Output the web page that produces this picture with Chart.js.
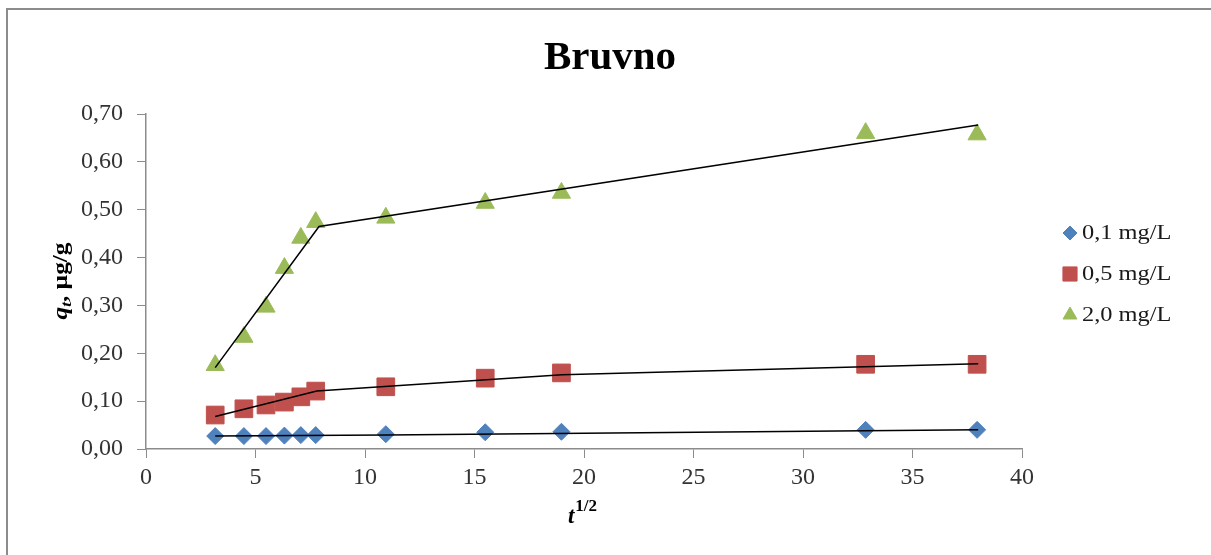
<!DOCTYPE html>
<html>
<head>
<meta charset="utf-8">
<script src="https://cdn.jsdelivr.net/npm/chart.js@4.4.1/dist/chart.umd.min.js"></script>
<style>
html,body{margin:0;padding:0;background:#fff;}
canvas{display:block;}
</style>
</head>
<body>
<canvas id="c" width="1211" height="555"></canvas>
<script>
// ---- data ----
const sqrtTime = [3.16, 4.47, 5.48, 6.32, 7.07, 7.75, 10.95, 15.49, 18.97, 32.86, 37.95];
const series01 = [0.027, 0.027, 0.027, 0.028, 0.029, 0.029, 0.031, 0.035, 0.036, 0.040, 0.040];
const series05 = [0.071, 0.084, 0.092, 0.098, 0.109, 0.121, 0.130, 0.148, 0.159, 0.177, 0.177];
const series20 = [0.175, 0.234, 0.297, 0.378, 0.441, 0.474, 0.483, 0.514, 0.535, 0.660, 0.657];

const fit01X = [3.16, 11.0, 38.0];
const fit01Y = [0.027, 0.029, 0.040];
const fit05X = [3.16, 7.8, 19.0, 38.0];
const fit05Y = [0.068, 0.121, 0.155, 0.178];
const fit20X = [3.16, 7.9, 38.0];
const fit20Y = [0.170, 0.465, 0.677];

const seriesLabels = ['0,1 mg/L', '0,5 mg/L', '2,0 mg/L'];
const seriesColors = ['#4F81BD', '#C0504D', '#9BBB59'];
const xTicks = [0, 5, 10, 15, 20, 25, 30, 35, 40];
const chartTitle = 'Bruvno';

const pts = (xs, ys) => xs.map((x, i) => ({x: x, y: ys[i]}));

const SERIF = '"Liberation Serif", "DejaVu Serif", serif';

const markerDs = (data, color, style, r) => ({
  label: '', data: data, showLine: false, order: 1,
  pointStyle: style, pointRadius: r, pointHoverRadius: r,
  backgroundColor: color, borderColor: color, borderWidth: 1
});
const fitDs = (data) => ({
  label: '', data: data, showLine: true, order: 0,
  borderColor: '#000', borderWidth: 1.5, pointRadius: 0, fill: false, tension: 0
});

const decorPlugin = {
  id: 'decor',
  afterDraw(chart) {
    const ctx = chart.ctx;
    ctx.save();
    // outer frame (top & left visible)
    ctx.strokeStyle = '#8c8c8c';
    ctx.lineWidth = 2;
    ctx.beginPath();
    ctx.moveTo(7, 560);
    ctx.lineTo(7, 9);
    ctx.lineTo(1220, 9);
    ctx.stroke();

    // title
    ctx.fillStyle = '#000';
    ctx.textAlign = 'center';
    ctx.textBaseline = 'middle';
    ctx.font = 'bold 41px ' + SERIF;
    ctx.fillText(chartTitle, 610, 58);

    // x axis title: t^{1/2}
    ctx.textAlign = 'left';
    ctx.textBaseline = 'alphabetic';
    ctx.font = 'bold italic 23px ' + SERIF;
    const tW = ctx.measureText('t').width;
    ctx.font = 'bold 17px ' + SERIF;
    const supW = ctx.measureText('1/2').width;
    const x0 = 582 - (tW + supW) / 2;
    ctx.font = 'bold italic 23px ' + SERIF;
    ctx.fillText('t', x0, 523);
    ctx.font = 'bold 17px ' + SERIF;
    ctx.fillText('1/2', x0 + tW + 1, 511);

    // y axis title: q_t, µg/g
    ctx.translate(61, 281);
    ctx.rotate(-Math.PI / 2);
    ctx.scale(1.15, 1);
    ctx.font = 'bold italic 22px ' + SERIF;
    const qW = ctx.measureText('q').width;
    ctx.font = 'bold italic 15px ' + SERIF;
    const subW = ctx.measureText('t').width;
    ctx.font = 'bold 22px ' + SERIF;
    const restW = ctx.measureText(', \u00b5g/g').width;
    let sx = -(qW + subW + restW) / 2;
    ctx.font = 'bold italic 22px ' + SERIF;
    ctx.fillText('q', sx, 6);
    sx += qW;
    ctx.font = 'bold italic 15px ' + SERIF;
    ctx.fillText('t', sx, 10);
    sx += subW;
    ctx.font = 'bold 22px ' + SERIF;
    ctx.fillText(', \u00b5g/g', sx, 6);
    ctx.restore();

    // legend
    ctx.save();
    const legY = [233, 274, 315];
    const styles = ['rectRot', 'rect', 'triangle'];
    const radii = [7, 10, 8];
    for (let i = 0; i < 3; i++) {
      ctx.fillStyle = seriesColors[i];
      ctx.strokeStyle = seriesColors[i];
      Chart.helpers.drawPoint(ctx, {pointStyle: styles[i], radius: radii[i], borderWidth: 1, rotation: 0}, 1070, legY[i]);
      ctx.save();
      ctx.translate(1082, legY[i] + 1);
      ctx.scale(1.22, 1);
      ctx.fillStyle = '#1a1a1a';
      ctx.font = '20px ' + SERIF;
      ctx.textAlign = 'left';
      ctx.textBaseline = 'middle';
      ctx.fillText(seriesLabels[i], 0, 0);
      ctx.restore();
    }
    ctx.restore();
  }
};

new Chart(document.getElementById('c'), {
  type: 'scatter',
  data: {
    datasets: [
      fitDs(pts(fit01X, fit01Y)),
      fitDs(pts(fit05X, fit05Y)),
      fitDs(pts(fit20X, fit20Y)),
      markerDs(pts(sqrtTime, series01), seriesColors[0], 'rectRot', 8.5),
      markerDs(pts(sqrtTime, series05), seriesColors[1], 'rect', 12.5),
      markerDs(pts(sqrtTime, series20), seriesColors[2], 'triangle', 10.5)
    ]
  },
  options: {
    responsive: false,
    animation: false,
    devicePixelRatio: 1,
    layout: {padding: {left: 20, right: 189, top: 114, bottom: 20}},
    plugins: {legend: {display: false}, title: {display: false}, tooltip: {enabled: false}},
    scales: {
      x: {
        type: 'linear', min: 0, max: 40,
        afterFit(s) { s.height = 555 - 449 - 20; },
        afterBuildTicks(s) { s.ticks = xTicks.map(v => ({value: v})); },
        grid: {display: true, drawOnChartArea: false, drawTicks: true, tickLength: 9, color: '#8c8c8c'},
        border: {display: true, color: '#8c8c8c', width: 1.5},
        ticks: {color: '#333', font: {family: SERIF, size: 24}, padding: 5, maxRotation: 0}
      },
      y: {
        type: 'linear', min: 0, max: 0.7,
        afterFit(s) { s.width = 146 - 20; },
        grid: {display: true, drawOnChartArea: false, drawTicks: true, tickLength: 9, color: '#8c8c8c'},
        border: {display: true, color: '#8c8c8c', width: 1.5},
        ticks: {stepSize: 0.1, color: '#333', font: {family: SERIF, size: 24}, padding: 14,
          callback: v => v.toFixed(2).replace('.', ',')}
      }
    }
  },
  plugins: [decorPlugin]
});
</script>
</body>
</html>
